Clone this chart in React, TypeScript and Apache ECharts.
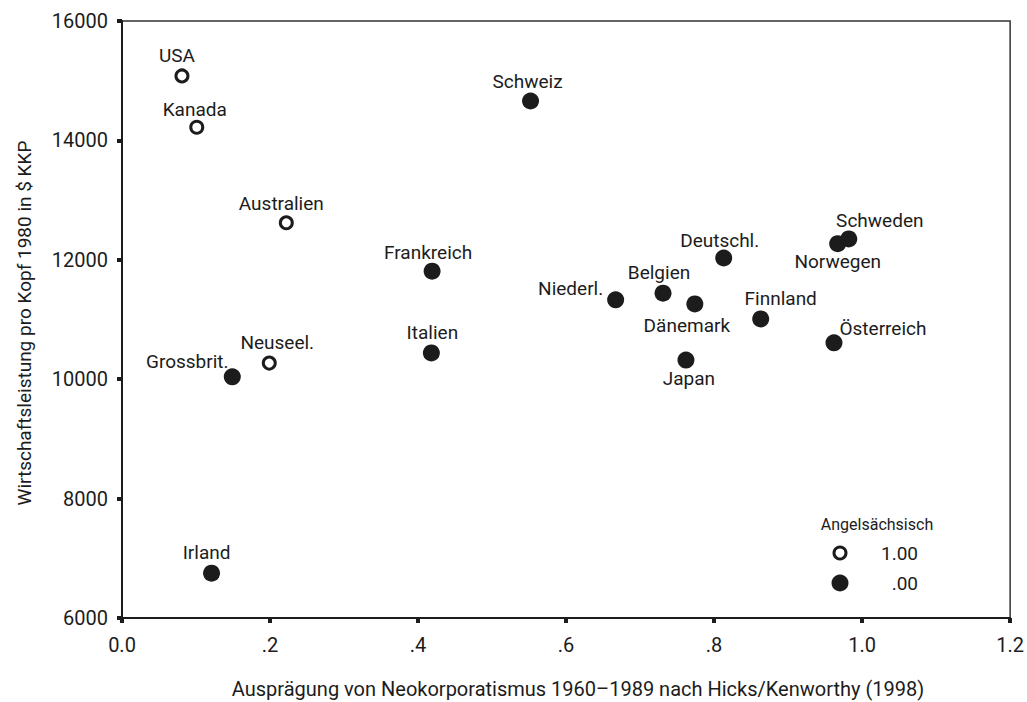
import { useEffect, useRef } from "react";
import * as echarts from "echarts";

const countries = [
  "USA", "Kanada", "Australien", "Neuseel.", "Grossbrit.", "Irland",
  "Frankreich", "Italien", "Schweiz", "Niederl.", "Belgien", "Dänemark",
  "Japan", "Deutschl.", "Finnland", "Österreich", "Norwegen", "Schweden",
];
const corporatism = [
  0.081, 0.101, 0.222, 0.199, 0.149, 0.121,
  0.419, 0.418, 0.552, 0.667, 0.731, 0.774,
  0.762, 0.813, 0.863, 0.962, 0.967, 0.982,
];
const gdpPerCapita = [
  15080, 14220, 12620, 10270, 10040, 6750,
  11810, 10440, 14660, 11330, 11440, 11260,
  10320, 12030, 11010, 10610, 12270, 12350,
];
const angloSaxon = [1, 1, 1, 1, 0, 0, 0, 0, 0, 0, 0, 0, 0, 0, 0, 0, 0, 0];

const xTicks = [0, 0.2, 0.4, 0.6, 0.8, 1.0, 1.2];
const xTickLabels = ["0.0", ".2", ".4", ".6", ".8", "1.0", "1.2"];
const yTicks = [6000, 8000, 10000, 12000, 14000, 16000];

const legendTitle = "Angelsächsisch";
const legendLabels = ["1.00", ".00"];
const xTitle = "Ausprägung von Neokorporatismus 1960–1989 nach Hicks/Kenworthy (1998)";
const yTitle = "Wirtschaftsleistung pro Kopf 1980 in $ KKP";

// label placement (pixel offset of label centre from the marker centre)
const labelOffsets: Record<string, [number, number]> = {
  "USA": [-5, -20],
  "Kanada": [-2, -18],
  "Australien": [-5, -19],
  "Neuseel.": [8, -21],
  "Grossbrit.": [-45, -15],
  "Irland": [-5, -21],
  "Frankreich": [-4, -19],
  "Italien": [1, -20],
  "Schweiz": [-3, -19],
  "Niederl.": [-45, -11],
  "Belgien": [-4, -21],
  "Dänemark": [-8, 22],
  "Japan": [3, 18],
  "Deutschl.": [-4, -18],
  "Finnland": [20, -20],
  "Österreich": [49, -14],
  "Norwegen": [0, 18],
  "Schweden": [31, -18],
};

const FONT = "Roboto, 'Liberation Sans', sans-serif";
const INK = "#1c1c1c";

function buildData(flag: number) {
  const out: any[] = [];
  countries.forEach((name, i) => {
    if (angloSaxon[i] !== flag) return;
    out.push({
      name,
      value: [corporatism[i], gdpPerCapita[i]],
      label: { offset: labelOffsets[name] || [0, -20] },
    });
  });
  return out;
}

export default function App() {
  const ref = useRef<HTMLDivElement>(null);
  useEffect(() => {
    if (!ref.current) return;
    const chart = echarts.init(ref.current, null, { renderer: "svg" });
    const pointLabel = {
      show: true,
      position: "inside",
      formatter: (p: any) => p.name,
      color: INK,
      fontFamily: FONT,
      fontSize: 19,
    };
    chart.setOption({
      animation: false,
      backgroundColor: "#fff",
      grid: {
        left: 122,
        top: 21,
        right: 14,
        bottom: 84,
        show: true,
        borderColor: "#333",
        borderWidth: 1.5,
      },
      xAxis: {
        type: "value",
        min: xTicks[0],
        max: xTicks[xTicks.length - 1],
        interval: 0.2,
        splitLine: { show: false },
        axisLine: { show: true, onZero: false, lineStyle: { color: INK, width: 2 } },
        axisTick: { show: true, length: 5, lineStyle: { color: INK, width: 4 } },
        axisLabel: {
          margin: 17,
          color: INK,
          fontFamily: FONT,
          fontSize: 20,
          formatter: (v: number) => {
            const idx = xTicks.findIndex((t) => Math.abs(t - v) < 1e-6);
            return idx >= 0 ? xTickLabels[idx] : "";
          },
        },
      },
      yAxis: {
        type: "value",
        min: yTicks[0],
        max: yTicks[yTicks.length - 1],
        interval: 2000,
        splitLine: { show: false },
        axisLine: { show: true, onZero: false, lineStyle: { color: INK, width: 2 } },
        axisTick: { show: true, length: 5, lineStyle: { color: INK, width: 4 } },
        axisLabel: {
          margin: 14,
          color: INK,
          fontFamily: FONT,
          fontSize: 20,
          formatter: (v: number) => String(v),
        },
      },
      graphic: [
        {
          type: "text",
          x: 578,
          y: 689,
          style: {
            text: xTitle,
            fill: INK,
            font: `20px ${FONT}`,
            textAlign: "center",
            textVerticalAlign: "middle",
          },
        },
        {
          type: "text",
          x: 24,
          y: 323,
          rotation: Math.PI / 2,
          style: {
            text: yTitle,
            fill: INK,
            font: `19px ${FONT}`,
            textAlign: "center",
            textVerticalAlign: "middle",
          },
        },
        {
          type: "text",
          x: 877,
          y: 524,
          style: {
            text: legendTitle,
            fill: INK,
            font: `16px ${FONT}`,
            textAlign: "center",
            textVerticalAlign: "middle",
          },
        },
        {
          type: "circle",
          shape: { cx: 840, cy: 553, r: 6 },
          style: { fill: "#fff", stroke: INK, lineWidth: 3 },
        },
        {
          type: "text",
          x: 918,
          y: 553,
          style: {
            text: legendLabels[0],
            fill: INK,
            font: `19px ${FONT}`,
            textAlign: "right",
            textVerticalAlign: "middle",
          },
        },
        {
          type: "circle",
          shape: { cx: 840, cy: 583, r: 8.5 },
          style: { fill: INK },
        },
        {
          type: "text",
          x: 918,
          y: 583,
          style: {
            text: legendLabels[1],
            fill: INK,
            font: `19px ${FONT}`,
            textAlign: "right",
            textVerticalAlign: "middle",
          },
        },
      ],
      series: [
        {
          name: legendLabels[1],
          type: "scatter",
          symbol: "circle",
          symbolSize: 17,
          itemStyle: { color: INK, opacity: 1 },
          label: pointLabel,
          data: buildData(0),
          z: 3,
        },
        {
          name: legendLabels[0],
          type: "scatter",
          symbol: "circle",
          symbolSize: 12,
          itemStyle: { color: "#fff", borderColor: INK, borderWidth: 3, opacity: 1 },
          label: pointLabel,
          data: buildData(1),
          z: 4,
        },
      ],
    });
    return () => chart.dispose();
  }, []);
  return (
    <div
      ref={ref}
      style={{ position: "fixed", left: 0, top: 0, width: 1027, height: 702, background: "#fff" }}
    />
  );
}
